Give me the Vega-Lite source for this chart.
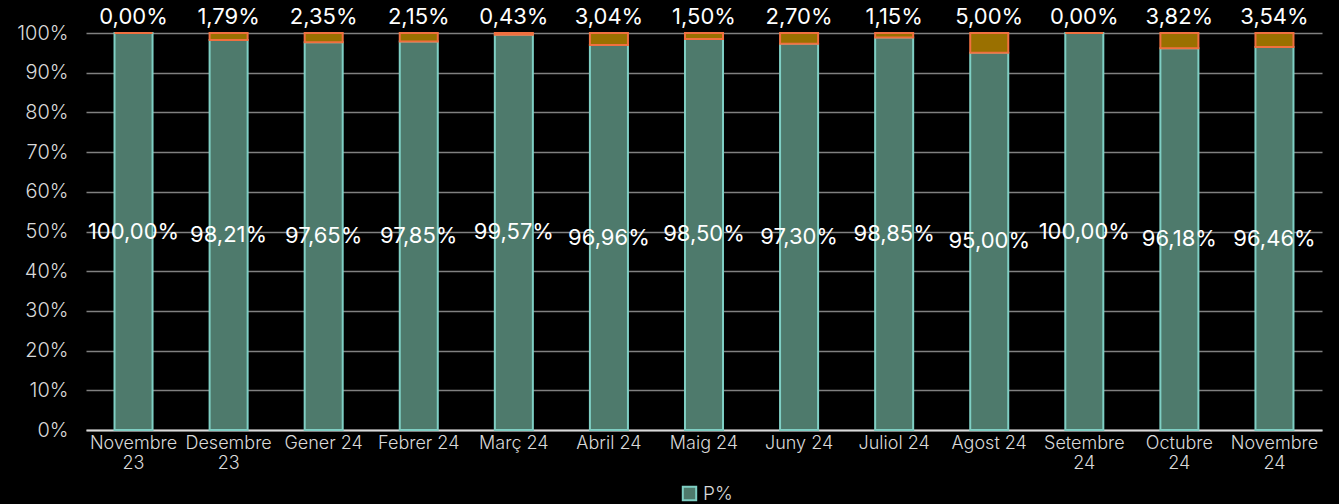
{
  "$schema": "https://vega.github.io/schema/vega-lite/v6.json",
  "width": 1339,
  "height": 504,
  "autosize": {"type": "fit", "contains": "padding"},
  "padding": {"top": 6, "left": 16, "right": 17, "bottom": 32},
  "background": "#000000",
  "config": {
    "font": "Inter",
    "view": {"stroke": null},
    "locale": {"number": {"decimal": ",", "thousands": ".", "grouping": [3], "currency": ["", " €"]}}
  },
  "data": {
    "values": [
      {"mes": "Novembre 23", "serie": "P%", "v": 1.0},
      {"mes": "Novembre 23", "serie": "N%", "v": 0.0},
      {"mes": "Desembre 23", "serie": "P%", "v": 0.9821},
      {"mes": "Desembre 23", "serie": "N%", "v": 0.0179},
      {"mes": "Gener 24", "serie": "P%", "v": 0.9765},
      {"mes": "Gener 24", "serie": "N%", "v": 0.0235},
      {"mes": "Febrer 24", "serie": "P%", "v": 0.9785},
      {"mes": "Febrer 24", "serie": "N%", "v": 0.0215},
      {"mes": "Març 24", "serie": "P%", "v": 0.9957},
      {"mes": "Març 24", "serie": "N%", "v": 0.0043},
      {"mes": "Abril 24", "serie": "P%", "v": 0.9696},
      {"mes": "Abril 24", "serie": "N%", "v": 0.0304},
      {"mes": "Maig 24", "serie": "P%", "v": 0.985},
      {"mes": "Maig 24", "serie": "N%", "v": 0.015},
      {"mes": "Juny 24", "serie": "P%", "v": 0.973},
      {"mes": "Juny 24", "serie": "N%", "v": 0.027},
      {"mes": "Juliol 24", "serie": "P%", "v": 0.9885},
      {"mes": "Juliol 24", "serie": "N%", "v": 0.0115},
      {"mes": "Agost 24", "serie": "P%", "v": 0.95},
      {"mes": "Agost 24", "serie": "N%", "v": 0.05},
      {"mes": "Setembre 24", "serie": "P%", "v": 1.0},
      {"mes": "Setembre 24", "serie": "N%", "v": 0.0},
      {"mes": "Octubre 24", "serie": "P%", "v": 0.9618},
      {"mes": "Octubre 24", "serie": "N%", "v": 0.0382},
      {"mes": "Novembre 24", "serie": "P%", "v": 0.9646},
      {"mes": "Novembre 24", "serie": "N%", "v": 0.0354}
    ]
  },
  "encoding": {
    "x": {
      "field": "mes",
      "type": "nominal",
      "sort": null,
      "scale": {"paddingInner": 0.6, "paddingOuter": 0.3},
      "axis": {
        "title": null,
        "labelAngle": 0,
        "labelColor": "#d9d9d9",
        "labelFontSize": 18,
        "labelFontWeight": 300,
        "labelPadding": 4,
        "labelLineHeight": 20,
        "labelExpr": "length(datum.label) > 9 ? split(datum.label, ' ') : datum.label",
        "ticks": false,
        "domainColor": "#d9d9d9",
        "domainWidth": 2,
        "grid": false
      }
    }
  },
  "layer": [
    {
      "mark": {"type": "bar", "strokeWidth": 2},
      "encoding": {
        "y": {
          "field": "v",
          "type": "quantitative",
          "stack": "zero",
          "scale": {"domain": [0, 1]},
          "axis": {
            "title": null,
            "values": [0, 0.1, 0.2, 0.3, 0.4, 0.5, 0.6, 0.7, 0.8, 0.9, 1],
            "format": ".0%",
            "labelColor": "#d9d9d9",
            "labelFontSize": 20,
            "labelFontWeight": 300,
            "labelPadding": 18,
            "ticks": false,
            "domain": false,
            "gridColor": "#808080",
            "gridWidth": 1.5
          }
        },
        "order": {"field": "serie", "sort": "descending"},
        "fill": {
          "field": "serie",
          "type": "nominal",
          "scale": {"domain": ["P%", "N%"], "range": ["#4e7a6c", "#9a7000"]},
          "legend": {
            "values": ["P%"],
            "orient": "none",
            "legendX": 594,
            "legendY": 451,
            "direction": "horizontal",
            "title": null,
            "labelColor": "#d9d9d9",
            "labelFontSize": 19,
            "labelFontWeight": 300,
            "symbolType": "square",
            "symbolSize": 180,
            "symbolStrokeWidth": 2
          }
        },
        "stroke": {
          "field": "serie",
          "type": "nominal",
          "scale": {"domain": ["P%", "N%"], "range": ["#7fcfc4", "#f07040"]},
          "legend": {
            "values": ["P%"],
            "orient": "none",
            "legendX": 594,
            "legendY": 451,
            "direction": "horizontal",
            "title": null,
            "labelColor": "#d9d9d9",
            "labelFontSize": 19,
            "labelFontWeight": 300,
            "symbolType": "square",
            "symbolSize": 180,
            "symbolStrokeWidth": 2
          }
        }
      }
    },
    {
      "transform": [{"filter": "datum.serie == 'P%'"}],
      "mark": {"type": "text", "color": "#ffffff", "fontSize": 22, "baseline": "middle"},
      "encoding": {
        "y": {"field": "v", "type": "quantitative", "scale": {"domain": [0, 2]}, "axis": null},
        "text": {"field": "v", "type": "quantitative", "format": ".2%"}
      }
    },
    {
      "transform": [{"filter": "datum.serie == 'N%'"}],
      "mark": {"type": "text", "color": "#ffffff", "fontSize": 22, "baseline": "middle", "dy": -16},
      "encoding": {
        "y": {"datum": 1, "type": "quantitative", "scale": {"domain": [0, 1]}, "axis": null},
        "text": {"field": "v", "type": "quantitative", "format": ".2%"}
      }
    }
  ],
  "resolve": {"scale": {"y": "independent"}}
}
